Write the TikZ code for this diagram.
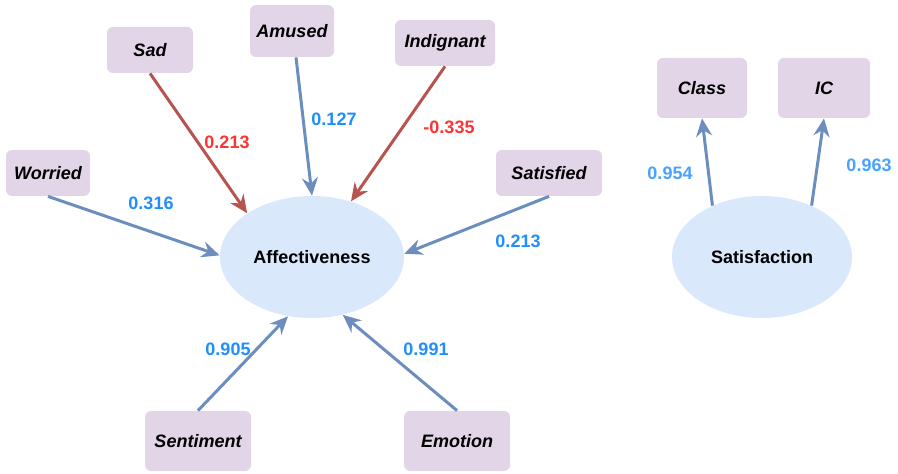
\documentclass[tikz,border=0pt]{standalone}
\usepackage{fontspec}
\setmainfont{Liberation Sans}
\usetikzlibrary{shapes.geometric,arrows.meta}
\definecolor{boxfill}{HTML}{E1D5E7}
\definecolor{ellfill}{HTML}{DAE8FC}
\definecolor{bluearrow}{HTML}{6C8EBF}
\definecolor{redarrow}{HTML}{B85450}
\definecolor{bluelabel}{HTML}{1E8FFF}
\definecolor{redlabel}{HTML}{FF3333}
\definecolor{lightlabel}{HTML}{47A3FF}

\begin{document}
\begin{tikzpicture}[x=0.5pt,y=-0.5pt,
		factor/.style={fill=boxfill, rounded corners=3pt, minimum height=23pt, inner sep=0pt, font=\bfseries\itshape},
		latent/.style={ellipse, fill=ellfill, inner sep=0pt, minimum width=92pt, minimum height=61pt, font=\bfseries},
		posarrow/.style={bluearrow, line width=1.5pt, -{Stealth[length=9pt,width=8pt,inset=3pt]}},
		negarrow/.style={redarrow, line width=1.5pt, -{Stealth[length=9pt,width=8pt,inset=3pt]}},
		wt/.style={font=\bfseries, text=bluelabel},
		negwt/.style={font=\bfseries, text=redlabel},
		lightwt/.style={font=\bfseries, text=lightlabel}]
	\fontsize{9}{11}\selectfont
	\useasboundingbox (0,0) rectangle (898,474);
	
	% Latent constructs
	\node[latent] (aff) at (312,257) {Affectiveness};
	\node[latent, minimum width=90pt] (satis) at (762,257) {Satisfaction};
	
	% Indicators around Affectiveness
	\node[factor, minimum width=43pt] (sad) at (150,50) {Sad};
	\node[factor, minimum width=42pt, minimum height=26pt] (amused) at (292,31) {Amused};
	\node[factor, minimum width=50pt] (indignant) at (445,43) {Indignant};
	\node[factor, minimum width=42pt] (worried) at (48,173) {Worried};
	\node[factor, minimum width=53pt] (satisfied) at (549,173) {Satisfied};
	\node[factor, minimum width=53pt, minimum height=30pt] (sentiment) at (198,441) {Sentiment};
	\node[factor, minimum width=53pt, minimum height=30pt] (emotion) at (457,441) {Emotion};
	
	% Indicators of Satisfaction
	\node[factor, minimum width=45pt, minimum height=30pt] (class) at (702,88) {Class};
	\node[factor, minimum width=46pt, minimum height=30pt] (ic) at (824,88) {IC};
	
	% Paths into Affectiveness
	\draw[negarrow] (sad.south) -- (aff.146);
	\draw[posarrow] ([xshift=2pt]amused.south) -- (aff.90);
	\draw[negarrow] (indignant.south) -- (aff.55);
	\draw[posarrow] (worried.south) -- (aff.179);
	\draw[posarrow] (satisfied.south) -- (aff.2);
	\draw[posarrow] (sentiment.north) -- (aff.248);
	\draw[posarrow] (emotion.north) -- (aff.298);
	
	% Paths out of Satisfaction
	\draw[posarrow] (satis.134) -- (class.south);
	\draw[posarrow] (satis.46) -- (ic.south);
	
	% Weights
	\node[negwt] (wsad) at (227,142) {0.213};
	\node[wt] (wamused) at (334,119) {0.127};
	\node[negwt] (windignant) at (449,127) {-0.335};
	\node[wt] (wworried) at (151,203) {0.316};
	\node[wt] (wsatisfied) at (518,241) {0.213};
	\node[wt] (wsentiment) at (228,349) {0.905};
	\node[wt] (wemotion) at (426,349) {0.991};
	\node[lightwt] (wclass) at (670,173) {0.954};
	\node[lightwt] (wic) at (869,165) {0.963};
\end{tikzpicture}
\end{document}
